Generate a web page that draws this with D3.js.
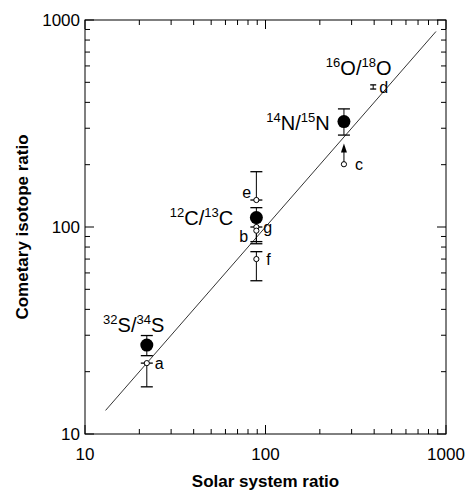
<!DOCTYPE html>
<html><head><meta charset="utf-8">
<script src="https://cdn.jsdelivr.net/npm/d3@7"></script>
<style>body{margin:0;background:#fff}text{font-family:"Liberation Sans",Arial,sans-serif}</style>
</head><body><div id="chart"></div>
<script>
// filled symbols: average cometary value vs solar system value
var meanNames = ["S", "C", "N"];
var meanSolar = [22, 89, 272];
var meanComet = [26.9, 111, 323];
var meanLow = [23.9, 85, 278];
var meanHigh = [29.9, 124, 372];

// open symbols: individual measurements
var openNames = ["a", "e", "g", "b", "f", "c", "d"];
var openSolar = [22, 89, 89, 89, 89, 272, 395];
var openComet = [22, 135, 100, 96, 70, 201, 475];
var openLow = [16.9, 135, 100, 83, 55, 201, 464];
var openHigh = [22, 185, 100, 100, 76, 201, 486];

var ratioLabels = ["32S/34S", "12C/13C", "14N/15N", "16O/18O"];
var labelAtX = [12.6, 29.5, 101, 216];
var labelAtY = [31, 102, 294, 542];
var lineRange = [13, 880];

var width = 471, height = 492;
var margin = { top: 20, right: 25, bottom: 58, left: 85 };

var svg = d3.select("#chart").append("svg")
    .attr("width", width).attr("height", height);

var x = d3.scaleLog().domain([10, 1000]).range([margin.left, width - margin.right]);
var y = d3.scaleLog().domain([10, 1000]).range([height - margin.bottom, margin.top]);

var ticks = [];
[10, 100].forEach(function (d) { for (var i = 1; i <= 10; i++) ticks.push(d * i); });
ticks = Array.from(new Set(ticks));
var major = [10, 100, 1000];

function tickLen(d) { return major.indexOf(d) >= 0 ? 9 : 5; }

// frame
svg.append("rect")
    .attr("x", x(10)).attr("y", y(1000))
    .attr("width", x(1000) - x(10)).attr("height", y(10) - y(1000))
    .attr("fill", "none").attr("stroke", "#000").attr("stroke-width", 1);

var g = svg.append("g").attr("stroke", "#000").attr("stroke-width", 1);
ticks.forEach(function (d) {
    var l = tickLen(d);
    g.append("line").attr("x1", x(d)).attr("x2", x(d)).attr("y1", y(10)).attr("y2", y(10) - l);
    g.append("line").attr("x1", x(d)).attr("x2", x(d)).attr("y1", y(1000)).attr("y2", y(1000) + l);
    g.append("line").attr("y1", y(d)).attr("y2", y(d)).attr("x1", x(10)).attr("x2", x(10) + l);
    g.append("line").attr("y1", y(d)).attr("y2", y(d)).attr("x1", x(1000)).attr("x2", x(1000) - l);
});

major.forEach(function (d) {
    svg.append("text").attr("x", x(d)).attr("y", y(10) + 26)
        .attr("text-anchor", "middle").attr("font-size", 17).text(d);
    svg.append("text").attr("x", x(10) - 5).attr("y", y(d) + 6)
        .attr("text-anchor", "end").attr("font-size", 17).text(d);
});

svg.append("text").attr("x", (x(10) + x(1000)) / 2).attr("y", 487)
    .attr("text-anchor", "middle").attr("font-size", 17).attr("font-weight", "bold")
    .text("Solar system ratio");
svg.append("text").attr("transform", "translate(28," + ((y(10) + y(1000)) / 2) + ") rotate(-90)")
    .attr("text-anchor", "middle").attr("font-size", 17).attr("font-weight", "bold")
    .text("Cometary isotope ratio");

// y = x line
svg.append("line")
    .attr("x1", x(lineRange[0])).attr("y1", y(lineRange[0]))
    .attr("x2", x(lineRange[1])).attr("y2", y(lineRange[1]))
    .attr("stroke", "#000").attr("stroke-width", 0.8);

function errorBar(xv, lo, hi, cap) {
    if (lo === hi) return;
    svg.append("line").attr("x1", x(xv)).attr("x2", x(xv)).attr("y1", y(lo)).attr("y2", y(hi))
        .attr("stroke", "#000").attr("stroke-width", 1);
    [lo, hi].forEach(function (v) {
        svg.append("line").attr("x1", x(xv) - cap).attr("x2", x(xv) + cap).attr("y1", y(v)).attr("y2", y(v))
            .attr("stroke", "#000").attr("stroke-width", 1.3);
    });
}

openNames.forEach(function (n, i) { errorBar(openSolar[i], openLow[i], openHigh[i], n === "d" ? 3 : 6); });
meanNames.forEach(function (n, i) { errorBar(meanSolar[i], meanLow[i], meanHigh[i], 6); });

// arrow from c (lower limit)
var cIdx = openNames.indexOf("c");
svg.append("line").attr("x1", x(openSolar[cIdx])).attr("x2", x(openSolar[cIdx]))
    .attr("y1", y(openComet[cIdx])).attr("y2", y(245)).attr("stroke", "#000");
svg.append("path")
    .attr("d", "M" + x(openSolar[cIdx]) + "," + (y(245) - 3) + " l-3,9 l6,0 z").attr("fill", "#000");

svg.selectAll(".open").data(openNames).enter().append("circle")
    .attr("cx", function (d, i) { return x(openSolar[i]); })
    .attr("cy", function (d, i) { return y(openComet[i]); })
    .attr("r", function (d) { return d === "d" ? 0 : 2.6; })
    .attr("fill", "#fff").attr("stroke", "#000").attr("stroke-width", 1);

svg.selectAll(".mean").data(meanNames).enter().append("circle")
    .attr("cx", function (d, i) { return x(meanSolar[i]); })
    .attr("cy", function (d, i) { return y(meanComet[i]); })
    .attr("r", 6.5).attr("fill", "#000");

// point letters
var letterOff = { a: [8, 6], e: [-14, -2], g: [7, 6], b: [-17, 11], f: [10, 6], c: [11, 6], d: [6, 6] };
openNames.forEach(function (n, i) {
    svg.append("text").attr("x", x(openSolar[i]) + letterOff[n][0]).attr("y", y(openComet[i]) + letterOff[n][1])
        .attr("font-size", 16).text(n);
});

// ratio labels with superscripts
ratioLabels.forEach(function (lab, i) {
    var m = lab.match(/(\d+)(\w+)\/(\d+)(\w+)/);
    var t = svg.append("text").attr("x", x(labelAtX[i])).attr("y", y(labelAtY[i]))
        .attr("font-size", 20);
    t.append("tspan").attr("font-size", 13).attr("dy", -8).text(m[1]);
    t.append("tspan").attr("dy", 8).text(m[2] + "/");
    t.append("tspan").attr("font-size", 13).attr("dy", -8).text(m[3]);
    t.append("tspan").attr("dy", 8).text(m[4]);
});
</script></body></html>
